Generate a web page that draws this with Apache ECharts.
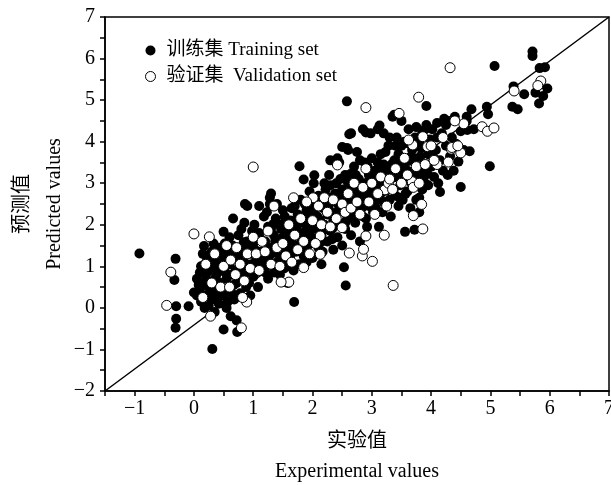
<!DOCTYPE html>
<html><head><meta charset="utf-8">
<script src="https://cdn.jsdelivr.net/npm/echarts@6/dist/echarts.min.js"></script>
<style>html,body{margin:0;padding:0;background:#fff}#c{width:611px;height:485px}</style>
</head><body><div id="c"></div>
<script>
var xRange = [-1.5, 7];
var yRange = [-2, 7];
var diagonal = [[-1.5, -2], [7, 7]];
var seriesNames = ['训练集 Training set', '验证集  Validation set'];
var xAxisName = '实验值\nExperimental values';
var yAxisName = '预测值\nPredicted values';

var training = [
[-0.92,1.31],[-0.31,1.18],[-0.33,0.67],[-0.3,0.04],[-0.3,-0.26],[-0.31,-0.48],[-0.09,0.04],[0.31,-0.99],[0.5,-0.52],[0.72,-0.3],[0.73,-0.58],[1.69,0.14],[2.53,0.98],[2.56,0.54],[1.78,3.41],[2.58,4.97],[5.07,5.82],[5.71,6.17],[5.71,6.06],[4.99,3.41],[4.15,2.79],[4.5,2.91],[3.56,1.83],[3.72,1.88],[3.92,4.86],[4.61,4.28],[4.68,4.78],[4.65,3.77],[4.46,3.52],[4.94,4.84],[4.96,4.66],[5.37,4.84],[5.46,4.78],[5.57,5.14],[5.39,5.33],[5.83,5.77],[5.92,5.79],[5.82,4.92],[5.96,5.28],[5.89,5.1],[5.76,5.18],[5.83,5.37],
[0.0,0.37],[0.05,0.3],[0.08,0.55],[0.1,0.85],[0.12,0.15],[0.15,0.6],[0.18,1.05],[0.2,0.3],[0.2,0.78],[0.22,1.2],[0.25,0.05],[0.25,0.5],[0.27,0.95],[0.3,1.35],[0.3,0.2],[0.32,0.65],[0.35,1.1],[0.35,-0.1],[0.38,0.4],[0.4,0.85],[0.42,1.45],[0.42,0.1],[0.45,0.6],[0.47,1.2],[0.5,0.3],[0.5,0.95],[0.52,1.55],[0.55,0.0],[0.55,0.7],[0.58,1.3],[0.6,0.45],[0.6,1.05],[0.62,-0.2],[0.65,0.8],[0.65,1.5],[0.68,0.2],[0.7,1.2],[0.72,0.6],[0.75,1.75],[0.75,0.95],[0.78,0.35],[0.8,1.4],[0.82,0.75],[0.85,1.1],[0.85,2.05],[0.88,0.5],[0.9,1.6],[0.92,0.95],[0.95,1.3],[0.95,0.3],[0.98,1.85],
[0.17,1.49],[0.5,1.83],[0.66,2.15],[0.86,2.5],[0.9,2.45],[1.3,2.75],[1.28,2.65],[1.85,3.09],[2.03,3.19],
[1.0,0.75],[1.0,1.55],[1.02,2.0],[1.05,1.15],[1.08,0.5],[1.1,1.8],[1.12,1.35],[1.15,0.9],[1.18,2.2],[1.2,1.6],[1.22,1.05],[1.25,0.7],[1.25,1.95],[1.28,2.5],[1.3,1.3],[1.35,0.85],[1.35,1.75],[1.38,2.15],[1.4,1.1],[1.42,1.5],[1.45,0.8],[1.45,2.0],[1.48,1.25],[1.5,1.7],[1.5,2.35],
[1.52,0.95],[1.55,1.45],[1.55,2.1],[1.58,0.6],[1.6,1.85],[1.62,1.2],[1.65,2.4],[1.65,1.6],[1.68,0.9],[1.7,2.0],[1.72,1.35],[1.75,2.25],[1.75,1.75],[1.78,1.05],[1.8,2.6],[1.8,1.55],[1.82,2.05],[1.85,1.25],[1.88,1.85],[1.9,2.35],[1.92,1.5],[1.95,2.0],[1.95,2.8],[1.98,1.7],[2.0,1.2],[2.0,2.45],
[2.02,3.0],[2.05,1.9],[2.08,2.2],[2.1,1.45],[2.12,2.65],[2.15,1.75],[2.15,1.05],[2.18,2.4],[2.2,2.0],[2.22,2.85],[2.25,1.6],[2.25,2.25],[2.28,3.2],[2.3,1.85],[2.32,2.55],[2.35,2.1],[2.35,1.4],[2.38,2.75],[2.4,3.0],[2.4,2.3],[2.42,1.7],[2.45,2.6],[2.45,3.5],[2.48,2.0],[2.5,2.85],[2.5,1.5],
[2.52,2.4],[2.55,3.2],[2.55,1.9],[2.58,3.85],[2.6,2.65],[2.62,2.2],[2.62,3.0],[2.65,1.75],[2.65,4.2],[2.68,2.5],[2.7,3.4],[2.7,2.85],[2.72,2.05],[2.75,3.75],[2.75,2.35],[2.78,3.1],[2.8,2.6],[2.8,1.6],[2.82,2.95],[2.85,4.3],[2.85,2.2],[2.88,3.5],[2.9,2.75],[2.92,1.95],[2.95,3.2],[2.95,2.45],[2.98,4.2],
[3.0,2.9],[3.0,3.6],[3.02,2.3],[3.05,3.3],[3.08,2.6],[3.1,4.3],[3.1,3.0],[3.12,1.95],[3.15,3.7],[3.15,2.75],[3.18,2.3],[3.2,3.45],[3.2,4.2],[3.22,3.05],[3.25,2.55],[3.28,3.9],[3.3,2.9],[3.3,3.3],[3.32,2.2],[3.35,4.6],[3.38,3.55],[3.4,2.7],[3.4,3.15],[3.42,4.1],[3.45,2.45],[3.45,3.7],[3.48,2.95],[3.5,3.35],
[3.52,2.6],[3.55,4.0],[3.55,3.1],[3.6,2.8],[3.6,3.55],[3.62,4.3],[3.65,2.4],[3.65,3.25],[3.68,3.8],[3.7,2.95],[3.72,3.5],[3.75,4.35],[3.75,2.6],[3.78,3.15],[3.8,3.95],[3.8,2.3],[3.82,3.65],[3.85,2.85],[3.85,4.2],[3.88,3.35],[3.9,3.0],[3.92,4.4],[3.95,3.7],[3.95,2.95],[3.98,4.05],
[4.0,3.4],[4.02,4.3],[4.05,3.15],[4.08,3.8],[4.1,4.45],[4.12,3.0],[4.15,3.55],[4.18,4.2],[4.2,3.3],[4.22,4.55],[4.25,3.9],[4.28,3.2],[4.3,4.5],[4.32,3.65],[4.35,4.1],[4.38,3.3],[4.4,4.6],[4.42,3.95],[4.5,4.25],[4.55,3.8],[4.6,4.6],
[0.05,0.7],[0.1,0.45],[0.15,1.3],[0.18,0.0],[0.22,0.65],[0.28,0.35],[0.3,1.0],[0.33,1.55],[0.37,0.75],[0.4,0.25],[0.43,1.05],[0.47,0.45],[0.5,1.35],[0.53,0.85],[0.57,0.15],[0.6,1.7],[0.63,1.25],[0.67,0.55],[0.7,0.9],[0.73,1.45],[0.77,0.7],[0.8,1.9],[0.83,1.2],[0.87,0.85],[0.9,1.45],[0.93,0.6],[0.97,1.05],[1.03,1.4],[1.07,0.95],[1.1,2.45],[1.13,1.65],[1.17,1.2],[1.2,0.85],[1.23,2.3],[1.27,1.45],[1.3,1.9],[1.33,1.05],[1.37,1.6],[1.4,2.5],[1.43,1.3],[1.47,1.9],[1.5,1.05],[1.53,2.2],[1.57,1.65],[1.6,1.0],[1.63,2.1],[1.67,1.45],[1.7,2.45],[1.73,1.9],[1.77,1.4],[1.8,2.2],[1.83,1.75],[1.87,2.5],[1.9,1.1],[1.93,2.15],[1.97,1.55],
[2.03,2.25],[2.07,1.65],[2.1,2.7],[2.13,2.1],[2.17,1.35],[2.2,2.5],[2.23,1.9],[2.27,2.4],[2.3,2.95],[2.33,1.65],[2.37,2.2],[2.4,2.65],[2.43,2.05],[2.47,3.1],[2.5,2.35],[2.53,2.7],[2.57,2.1],[2.6,3.0],[2.63,2.45],[2.67,2.9],[2.7,2.2],[2.73,3.2],[2.77,2.75],[2.8,3.55],[2.83,2.4],[2.87,3.0],[2.9,2.15],[2.93,3.4],[2.97,2.7],
[3.03,3.1],[3.07,2.4],[3.1,3.5],[3.13,2.85],[3.17,3.25],[3.2,2.55],[3.23,3.75],[3.27,3.0],[3.3,2.6],[3.33,3.45],[3.37,2.85],[3.4,3.9],[3.43,3.25],[3.47,2.65],[3.5,3.9],[3.53,3.45],[3.57,2.75],[3.6,3.3],[3.63,3.95],[3.67,3.0],[3.7,3.6],[3.73,4.1],[3.77,3.3],[3.8,2.65],[3.83,3.85],[3.87,3.15],[3.9,4.3],[3.93,3.45],[3.97,3.85],
[2.5,3.87],[2.6,3.8],[2.62,4.18],[2.9,4.22],[3.13,4.39],[3.38,4.65],[2.42,3.6],[2.3,3.55],[2.2,3.0],[3.5,4.5],[4.25,4.4],[4.6,4.5],[4.72,4.3],[4.1,4.1],[3.3,4.1],
[0.12,1.0],[0.24,0.88],[0.36,0.52],[0.44,1.3],[0.56,1.12],[0.64,0.35],[0.76,1.22],[0.84,1.58],[0.96,0.78],[1.06,1.72],[1.14,1.08],[1.26,1.22],[1.34,2.02],[1.46,1.58],[1.54,1.88],[1.64,1.32],[1.74,2.12],[1.84,1.42],[1.94,1.82],[2.06,2.42],[2.14,1.58],[2.24,2.68],[2.34,1.92],[2.44,2.48],[2.54,2.02],[2.64,3.22],[2.74,2.62],[2.84,2.72],[2.94,3.02],[3.04,2.52],[3.14,3.42],[3.24,2.82],[3.34,3.12],[3.44,3.52],[3.54,3.22],[3.64,3.62],[3.74,3.02],[3.84,3.42],[3.94,3.22],[4.04,3.62]
];

var validation = [
[-0.46,0.06],[-0.39,0.86],[0.0,1.78],[0.26,1.71],[0.28,-0.2],[0.8,-0.48],[1.0,3.39],[0.89,0.14],[1.68,2.65],[2.01,2.65],[2.42,3.44],[2.9,4.82],[3.79,5.07],[4.32,5.78],[3.36,0.54],[3.01,1.12],[2.84,1.25],[2.86,1.41],[2.62,1.32],[3.21,1.75],[3.86,1.9],[3.7,2.22],[4.86,4.36],[4.95,4.25],[5.06,4.33],[5.4,5.22],[5.85,5.46],[5.8,5.35],[3.46,4.68],[4.5,3.73],[4.34,3.82],[4.29,3.51],[4.1,3.45],[1.6,0.62],[1.47,0.62],[1.85,0.97],[2.13,1.29],[2.13,1.73],[2.5,1.93],[2.9,1.73],[3.22,2.84],[3.28,3.0],[3.84,2.49],[3.68,3.04],[3.69,3.92],[3.62,4.04],[3.86,4.12],[3.94,3.88],[4.35,3.86],[4.55,4.43],
[0.15,0.25],[0.2,1.05],[0.3,0.6],[0.35,1.3],[0.45,0.5],[0.5,1.0],[0.55,1.5],[0.6,0.5],[0.62,1.15],[0.7,0.8],[0.72,1.45],[0.78,1.05],[0.82,0.25],[0.85,0.65],[0.9,1.3],[0.95,0.95],[1.0,1.7],[1.05,1.3],[1.1,0.9],[1.15,1.6],[1.2,1.35],[1.25,1.85],[1.3,1.05],[1.35,2.45],[1.4,1.45],[1.45,1.0],[1.5,1.55],[1.55,1.25],[1.6,2.0],[1.65,1.1],[1.7,1.75],[1.75,1.4],[1.8,2.15],[1.85,1.6],[1.9,2.55],[1.95,1.3],[2.0,2.1],[2.05,1.55],[2.1,2.45],[2.15,2.0],[2.2,2.65],[2.25,2.3],[2.3,1.95],[2.35,2.6],[2.4,2.15],[2.5,2.5],[2.55,2.3],[2.6,2.75],[2.65,2.4],[2.7,3.0],[2.75,2.55],[2.8,2.25],[2.85,2.9],[2.9,3.35],[2.95,2.55],[3.0,3.0],[3.05,2.25],[3.1,2.75],[3.15,3.15],[3.25,2.45],[3.3,3.1],[3.35,2.85],[3.4,3.35],[3.5,3.0],[3.55,3.6],[3.6,3.2],[3.7,2.9],[3.75,3.4],[3.8,3.0],[3.9,3.45],[4.0,3.9],[4.05,3.55],[4.2,4.1],[4.45,3.9],[4.4,4.5]
];

var FONT = '"Liberation Serif", "Times New Roman", "Noto Sans CJK SC", serif';
function fmt(v) {
  if (Math.abs(v - Math.round(v)) > 1e-6) return '';
  var r = Math.round(v);
  return r < 0 ? '\u2212' + Math.abs(r) : String(r);
}
var chart = echarts.init(document.getElementById('c'), null, {renderer: 'canvas'});
chart.setOption({
  animation: false,
  backgroundColor: '#fff',
  grid: {left: 105, right: 2, top: 17, bottom: 94, containLabel: false, outerBoundsMode: 'none',
         show: true, borderColor: '#000', borderWidth: 1.5, backgroundColor: 'transparent'},
  legend: {
    orient: 'vertical', left: 140, top: 36, itemGap: 7, itemWidth: 10, itemHeight: 10,
    textStyle: {fontFamily: FONT, fontSize: 19, color: '#000', padding: [0, 0, 0, 6]},
    data: [
      {name: seriesNames[0], icon: 'circle', itemStyle: {color: '#000', borderWidth: 0}},
      {name: seriesNames[1], icon: 'circle', itemStyle: {color: '#fff', borderColor: '#000', borderWidth: 1}}
    ]
  },
  xAxis: {
    type: 'value', min: xRange[0], max: xRange[1], interval: 0.5,
    name: xAxisName, nameLocation: 'middle', nameGap: 36, nameMoveOverlap: false,
    nameTextStyle: {fontFamily: FONT, fontSize: 20, color: '#000', lineHeight: 30},
    axisLine: {show: true, onZero: false, lineStyle: {color: '#000', width: 1.5}},
    axisTick: {show: true, length: 5, inside: false, lineStyle: {color: '#000', width: 1.5}},
    axisLabel: {formatter: fmt, fontFamily: FONT, fontSize: 20, color: '#000', margin: 8, showMaxLabel: true},
    splitLine: {show: false}
  },
  yAxis: {
    type: 'value', min: yRange[0], max: yRange[1], interval: 0.5,
    name: yAxisName, nameLocation: 'middle', nameGap: 34, nameRotate: 90, nameMoveOverlap: false,
    nameTextStyle: {fontFamily: FONT, fontSize: 20, color: '#000', lineHeight: 32},
    axisLine: {show: true, onZero: false, lineStyle: {color: '#000', width: 1.5}},
    axisTick: {show: true, length: 5, inside: false, lineStyle: {color: '#000', width: 1.5}},
    axisLabel: {formatter: fmt, fontFamily: FONT, fontSize: 20, color: '#000', margin: 10},
    splitLine: {show: false}
  },
  series: [
    {type: 'line', data: diagonal, symbol: 'none', silent: true, lineStyle: {color: '#000', width: 1.5}, z: 1},
    {name: seriesNames[0], type: 'scatter', data: training, symbol: 'circle', symbolSize: 10,
     itemStyle: {color: '#000', opacity: 1}, z: 2},
    {name: seriesNames[1], type: 'scatter', data: validation, symbol: 'circle', symbolSize: 10,
     itemStyle: {color: '#fff', borderColor: '#000', borderWidth: 1, opacity: 1}, z: 3}
  ]
});
</script></body></html>
